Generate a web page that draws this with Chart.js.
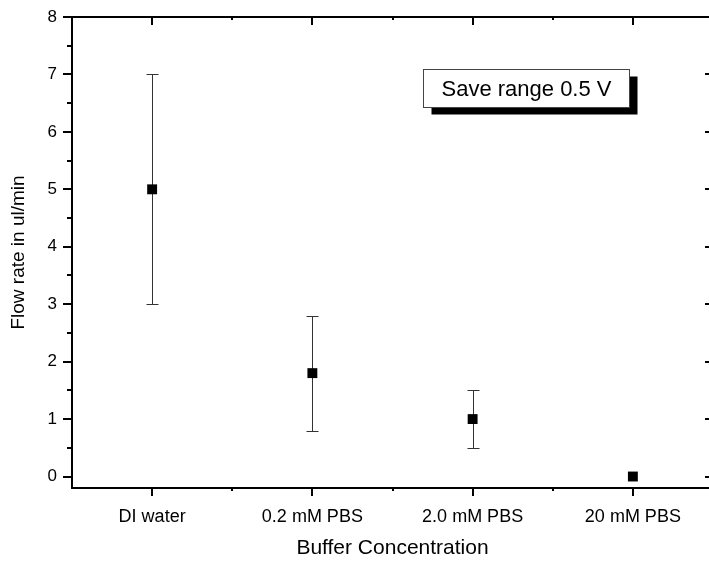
<!DOCTYPE html>
<html>
<head>
<meta charset="utf-8">
<script src="https://cdn.jsdelivr.net/npm/chart.js@4.4.0/dist/chart.umd.min.js"></script>
<style>
  html, body { margin: 0; padding: 0; background: #fff; overflow: hidden; }
  #wrap { width: 713px; height: 563px; position: relative; }
</style>
</head>
<body>
<div id="wrap"><canvas id="flowChart"></canvas></div>
<script>
// Data
const categories = ['DI water', '0.2 mM PBS', '2.0 mM PBS', '20 mM PBS'];
const flowRate = [5, 1.8, 1.0, 0];
const errLow = [3, 0.8, 0.5, 0];
const errHigh = [7, 2.8, 1.5, 0];
const yTicks = [0, 1, 2, 3, 4, 5, 6, 7, 8];
const yMinorTicks = [0.5, 1.5, 2.5, 3.5, 4.5, 5.5, 6.5, 7.5];
const xMinorTicks = [1.5, 2.5, 3.5];
const noteText = 'Save range 0.5 V';

const FONT = 'Liberation Sans, Arial, sans-serif';

// Error bars with caps
const errorBars = {
    id: 'errorBars',
    beforeDatasetsDraw(chart) {
        const { ctx, scales: { x, y } } = chart;
        ctx.save();
        ctx.strokeStyle = '#333';
        ctx.lineWidth = 1;
        flowRate.forEach((v, i) => {
            if (errHigh[i] === errLow[i]) return;
            const px = Math.round(x.getPixelForValue(i + 1)) + 0.5;
            const top = Math.round(y.getPixelForValue(errHigh[i])) + 0.5;
            const bot = Math.round(y.getPixelForValue(errLow[i])) + 0.5;
            ctx.beginPath();
            ctx.moveTo(px, top); ctx.lineTo(px, bot);
            ctx.moveTo(px - 6, top); ctx.lineTo(px + 6, top);
            ctx.moveTo(px - 6, bot); ctx.lineTo(px + 6, bot);
            ctx.stroke();
        });
        ctx.restore();
    }
};

// Box frame, outward ticks left/bottom, inward ticks top/right
const frameTicks = {
    id: 'frameTicks',
    afterDraw(chart) {
        const { ctx, chartArea: a, scales: { x, y } } = chart;
        const seg = (x1, y1, x2, y2) => {
            ctx.beginPath(); ctx.moveTo(x1, y1); ctx.lineTo(x2, y2); ctx.stroke();
        };
        ctx.save();
        ctx.strokeStyle = '#000';
        ctx.lineWidth = 2;
        ctx.strokeRect(a.left, a.top, a.right - a.left, a.bottom - a.top);
        yTicks.forEach(v => {
            const p = Math.round(y.getPixelForValue(v));
            seg(a.left - 9, p, a.left, p);
            seg(a.right, p, a.right - 8, p);
        });
        yMinorTicks.forEach(v => {
            const p = Math.round(y.getPixelForValue(v));
            seg(a.left - 5, p, a.left, p);
            seg(a.right, p, a.right - 4, p);
        });
        categories.forEach((c, i) => {
            const p = Math.round(x.getPixelForValue(i + 1));
            seg(p, a.bottom, p, a.bottom + 8);
            seg(p, a.top, p, a.top + 8);
        });
        xMinorTicks.forEach(v => {
            const p = Math.round(x.getPixelForValue(v));
            seg(p, a.bottom, p, a.bottom + 3);
            seg(p, a.top, p, a.top + 3);
        });
        ctx.restore();
    }
};

// Text box with drop shadow
const noteBox = {
    id: 'noteBox',
    afterDraw(chart) {
        const { ctx, chartArea: a } = chart;
        const w = a.right - a.left, h = a.bottom - a.top;
        const bx = Math.round(a.left + w * 0.548) + 0.5;
        const by = Math.round(a.top + h * 0.110) + 0.5;
        const bw = 206, bh = 38;
        ctx.save();
        ctx.fillStyle = '#000';
        ctx.fillRect(bx + 8, by + 7, bw, bh);
        ctx.fillStyle = '#fff';
        ctx.fillRect(bx, by, bw, bh);
        ctx.strokeStyle = '#444';
        ctx.lineWidth = 1;
        ctx.strokeRect(bx, by, bw, bh);
        ctx.fillStyle = '#000';
        ctx.font = '22px ' + FONT;
        ctx.textAlign = 'center';
        ctx.textBaseline = 'middle';
        ctx.fillText(noteText, bx + bw / 2, by + bh / 2 + 1);
        ctx.restore();
    }
};

document.addEventListener('DOMContentLoaded', function() {
    const ctx = document.getElementById('flowChart');
    new Chart(ctx, {
        type: 'scatter',
        data: {
            datasets: [{
                label: 'Flow rate',
                data: flowRate.map((v, i) => ({ x: i + 1, y: v })),
                pointStyle: 'rect',
                pointRadius: 7,
                backgroundColor: '#000',
                borderColor: '#000',
                borderWidth: 0
            }]
        },
        options: {
            responsive: true,
            maintainAspectRatio: false,
            animation: false,
            layout: { autoPadding: false, padding: { top: 17, right: 0, left: 0, bottom: 0 } },
            plugins: {
                legend: { display: false },
                tooltip: { enabled: false }
            },
            scales: {
                x: {
                    type: 'linear',
                    min: 0.5,
                    max: 4.5,
                    grid: { display: false, drawTicks: false },
                    border: { display: false },
                    afterBuildTicks: s => { s.ticks = categories.map((c, i) => ({ value: i + 1 })); },
                    ticks: {
                        autoSkip: false,
                        maxRotation: 0,
                        padding: 18,
                        color: '#000',
                        font: { family: FONT, size: 18 },
                        callback: (v, i) => categories[i]
                    },
                    title: {
                        display: true,
                        text: 'Buffer Concentration',
                        color: '#000',
                        font: { family: FONT, size: 21 },
                        padding: { top: 0, bottom: 2 }
                    },
                    afterFit: s => { s.height = 75; s.paddingLeft = 0; s.paddingRight = 0; }
                },
                y: {
                    min: -0.2,
                    max: 8,
                    grid: { display: false, drawTicks: false },
                    border: { display: false },
                    afterBuildTicks: s => { s.ticks = yTicks.map(v => ({ value: v })); },
                    ticks: {
                        padding: 15,
                        color: '#000',
                        font: { family: FONT, size: 17 }
                    },
                    title: {
                        display: true,
                        text: 'Flow rate in ul/min',
                        color: '#000',
                        font: { family: FONT, size: 19 },
                        padding: { top: 7, bottom: 0 }
                    },
                    afterFit: s => { s.width = 72; s.paddingTop = 0; s.paddingBottom = 0; }
                }
            }
        },
        plugins: [errorBars, frameTicks, noteBox]
    });
});
</script>
</body>
</html>
